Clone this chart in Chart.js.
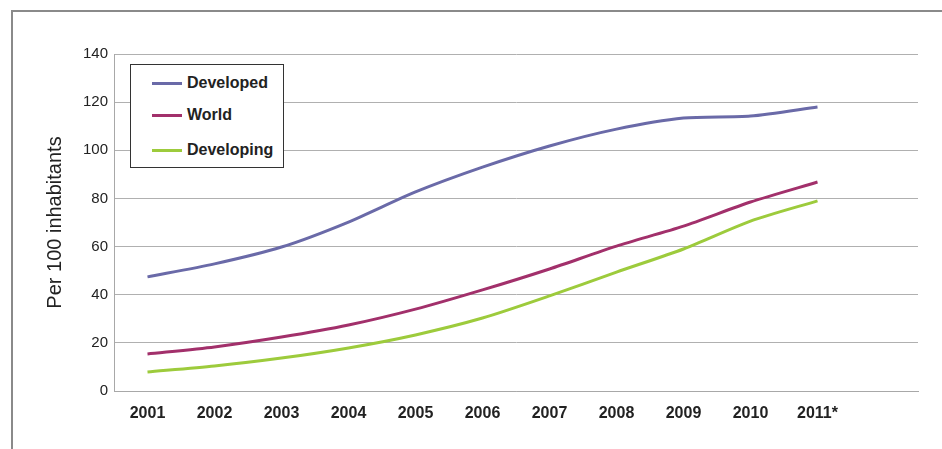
<!DOCTYPE html>
<html>
<head>
<meta charset="utf-8">
<script src="https://cdn.jsdelivr.net/npm/chart.js@4/dist/chart.umd.min.js"></script>
<style>
  html, body { margin: 0; padding: 0; background: #fff; }
  #wrap { position: relative; width: 942px; height: 449px; overflow: hidden; }
  #frame { position: absolute; left: 11px; top: 10px; width: 960px; height: 460px;
           border-left: 2px solid #8a8a8a; border-top: 2px solid #8a8a8a; }
  #legend { position: absolute; left: 130px; top: 64px; width: 152px; height: 102px;
            border: 1px solid #333; background: #fff;
            font: bold 16px "Liberation Sans", Arial, sans-serif; color: #222; }
  .row { position: absolute; left: 21px; height: 18px; }
  .row span.swatch { position: absolute; left: 0; top: 8px; width: 30px; height: 3px; }
  .row span.label { position: absolute; left: 35px; top: 0; white-space: nowrap; line-height: 18px; }
  canvas { position: absolute; left: 0; top: 0; }
</style>
</head>
<body>
<div id="wrap">
  <div id="frame"></div>
  <canvas id="chart" width="942" height="449"></canvas>
  <div id="legend"></div>
</div>
<script>
document.addEventListener("DOMContentLoaded", () => {
    const years = ["2001", "2002", "2003", "2004", "2005", "2006", "2007", "2008", "2009", "2010", "2011*", ""];
    const developed = [47.4, 52.8, 59.8, 70.2, 82.7, 93.0, 101.8, 108.8, 113.4, 114.2, 118.0];
    const world = [15.4, 18.3, 22.4, 27.4, 34.0, 42.0, 50.7, 60.2, 68.5, 78.5, 86.8];
    const developing = [7.9, 10.4, 13.7, 17.9, 23.3, 30.3, 39.5, 49.4, 59.0, 70.6, 79.0];
    const yTicks = [0, 20, 40, 60, 80, 100, 120, 140];

    const series = [
        { label: "Developed", data: developed, color: "#6a6aa8" },
        { label: "World", data: world, color: "#a2306b" },
        { label: "Developing", data: developing, color: "#9dcb3c" },
    ];

    const fontFamily = '"Liberation Sans", Arial, sans-serif';

    // html legend inside the plot
    const legend = document.getElementById("legend");
    const rowTops = [9, 41, 76];
    series.forEach((s, i) => {
        const row = document.createElement("div");
        row.className = "row";
        row.style.top = rowTops[i] + "px";
        row.innerHTML = `<span class="swatch" style="background:${s.color}"></span><span class="label">${s.label}</span>`;
        legend.appendChild(row);
    });

    const ctx = document.getElementById("chart").getContext("2d");
    new Chart(ctx, {
        type: "line",
        data: {
            labels: years,
            datasets: series.map((s) => ({
                label: s.label,
                data: s.data,
                borderColor: s.color,
                backgroundColor: s.color,
                borderWidth: 3,
                pointRadius: 0,
                tension: 0.25,
                fill: false,
            })),
        },
        options: {
            responsive: false,
            animation: false,
            layout: { padding: { left: 43, right: 24, top: 54, bottom: 0 } },
            plugins: {
                legend: { display: false },
                tooltip: { enabled: false },
            },
            scales: {
                x: {
                    offset: true,
                    grid: { display: false, drawTicks: false },
                    border: { display: true, color: "#a8a8a8", width: 1 },
                    ticks: {
                        color: "#222",
                        padding: 13,
                        maxRotation: 0,
                        autoSkip: false,
                        font: { family: fontFamily, size: 16, weight: "bold" },
                    },
                    afterFit: (scale) => { scale.height = 58; },
                },
                y: {
                    min: 0,
                    max: 140,
                    afterBuildTicks: (scale) => {
                        scale.ticks = yTicks.map((v) => ({ value: v }));
                    },
                    grid: { color: "#b0b0b0", lineWidth: 1, drawTicks: false },
                    border: { display: true, color: "#a8a8a8", width: 1 },
                    ticks: {
                        color: "#222",
                        padding: 6,
                        font: { family: fontFamily, size: 15 },
                    },
                    title: {
                        display: true,
                        text: "Per 100 inhabitants",
                        color: "#222",
                        padding: 0,
                        font: { family: fontFamily, size: 20 },
                    },
                    afterFit: (scale) => { scale.width = 71; },
                },
            },
        },
    });
});
</script>
</body>
</html>
